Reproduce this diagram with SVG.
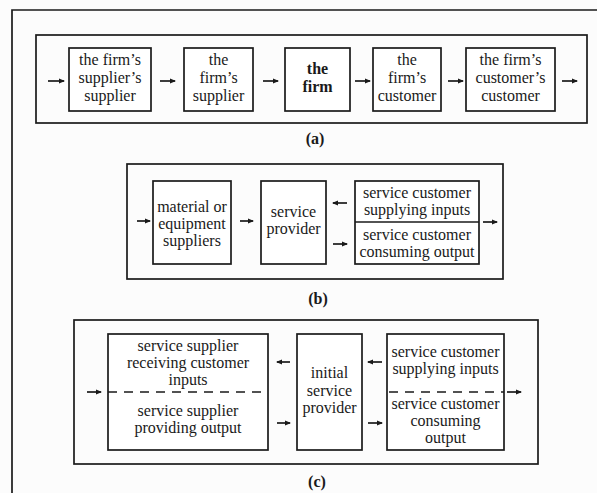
<svg xmlns="http://www.w3.org/2000/svg" width="597" height="493" viewBox="0 0 597 493">
  <defs>
    <marker id="head" markerWidth="6" markerHeight="6" refX="5" refY="3" orient="auto" markerUnits="userSpaceOnUse">
      <path d="M0,0.6 L6,3 L0,5.4 Z" fill="#1a1a1a"/>
    </marker>
    <style>
      .frame { fill: none; stroke: #1a1a1a; stroke-width: 1.7; }
      .box { fill: #ffffff; stroke: #1a1a1a; stroke-width: 1.7; }
      .dash { stroke: #1a1a1a; stroke-width: 1.5; stroke-dasharray: 9 7; }
      .div { stroke: #1a1a1a; stroke-width: 1.5; }
      .arr { stroke: #1a1a1a; stroke-width: 1.7; marker-end: url(#head); }
      text { font-family: "Liberation Serif", "Times New Roman", serif; font-size: 16px; fill: #1a1a1a; text-anchor: middle; }
      .b { font-weight: bold; }
      .lab { font-weight: bold; font-size: 16px; }
    </style>
  </defs>
  <rect width="597" height="493" fill="#fcfcfc"/>

  <!-- page frame: top and left rules -->
  <path class="frame" d="M12,493 L12,10 L597,10"/>

  <!-- panel (a) -->
  <g id="panel-a">
    <rect class="frame" x="36" y="35" width="551" height="88"/>
    <text class="lab" x="315" y="144">(a)</text>
  </g>
  <g id="a-supplier-supplier">
    <rect class="box" x="69" y="48" width="82" height="63"/>
    <text x="110" y="65">the firm’s</text>
    <text x="110" y="83">supplier’s</text>
    <text x="110" y="101">supplier</text>
  </g>
  <g id="a-supplier">
    <rect class="box" x="184" y="48" width="69" height="63"/>
    <text x="218.5" y="65">the</text>
    <text x="218.5" y="83">firm’s</text>
    <text x="218.5" y="101">supplier</text>
  </g>
  <g id="a-firm">
    <rect class="box" x="285" y="48" width="65" height="63"/>
    <text class="b" x="317.5" y="74">the</text>
    <text class="b" x="317.5" y="92">firm</text>
  </g>
  <g id="a-customer">
    <rect class="box" x="373" y="48" width="68" height="63"/>
    <text x="407" y="65">the</text>
    <text x="407" y="83">firm’s</text>
    <text x="407" y="101">customer</text>
  </g>
  <g id="a-customer-customer">
    <rect class="box" x="466" y="48" width="89" height="63"/>
    <text x="510.5" y="65">the firm’s</text>
    <text x="510.5" y="83">customer’s</text>
    <text x="510.5" y="101">customer</text>
  </g>

  <!-- panel (b) -->
  <g id="panel-b">
    <rect class="frame" x="127" y="164" width="376" height="115"/>
    <text class="lab" x="318" y="304">(b)</text>
  </g>
  <g id="b-suppliers">
    <rect class="box" x="153" y="181" width="78" height="83"/>
    <text x="192" y="212">material or</text>
    <text x="192" y="229">equipment</text>
    <text x="192" y="246">suppliers</text>
  </g>
  <g id="b-provider">
    <rect class="box" x="261" y="181" width="65" height="83"/>
    <text x="293.5" y="217">service</text>
    <text x="293.5" y="234">provider</text>
  </g>
  <g id="b-customer">
    <rect class="box" x="355" y="181" width="124" height="83"/>
    <line class="div" x1="355" y1="222" x2="479" y2="222"/>
    <text x="417" y="198">service customer</text>
    <text x="417" y="215">supplying inputs</text>
    <text x="417" y="240">service customer</text>
    <text x="417" y="257">consuming output</text>
  </g>

  <!-- panel (c) -->
  <g id="panel-c">
    <rect class="frame" x="74" y="320" width="464" height="144"/>
    <text class="lab" x="317" y="487">(c)</text>
  </g>
  <g id="c-supplier">
    <rect class="box" x="108" y="334" width="160" height="116"/>
    <line class="dash" x1="108" y1="392" x2="268" y2="392"/>
    <text x="188" y="351">service supplier</text>
    <text x="188" y="368">receiving customer</text>
    <text x="188" y="385">inputs</text>
    <text x="188" y="416">service supplier</text>
    <text x="188" y="433">providing output</text>
  </g>
  <g id="c-provider">
    <rect class="box" x="297" y="334" width="65" height="116"/>
    <text x="329.5" y="378">initial</text>
    <text x="329.5" y="396">service</text>
    <text x="329.5" y="413">provider</text>
  </g>
  <g id="c-customer">
    <rect class="box" x="387" y="334" width="117" height="116"/>
    <line class="dash" x1="387" y1="392" x2="504" y2="392" stroke-dashoffset="-2"/>
    <text x="445.5" y="357">service customer</text>
    <text x="445.5" y="374">supplying inputs</text>
    <text x="445.5" y="409">service customer</text>
    <text x="445.5" y="426">consuming</text>
    <text x="445.5" y="443">output</text>
  </g>

  <!-- connectors -->
  <g id="connectors">
    <line class="arr" x1="48" y1="81" x2="64" y2="81"/>
    <line class="arr" x1="160" y1="81" x2="175" y2="81"/>
    <line class="arr" x1="263" y1="81" x2="278" y2="81"/>
    <line class="arr" x1="355" y1="81" x2="370" y2="81"/>
    <line class="arr" x1="448" y1="81" x2="463" y2="81"/>
    <line class="arr" x1="562" y1="81" x2="577" y2="81"/>

    <line class="arr" x1="137" y1="221" x2="150" y2="221"/>
    <line class="arr" x1="240" y1="221" x2="253" y2="221"/>
    <line class="arr" x1="347" y1="203" x2="333" y2="203"/>
    <line class="arr" x1="333" y1="244" x2="347" y2="244"/>
    <line class="arr" x1="483" y1="222" x2="497" y2="222"/>

    <line class="arr" x1="87" y1="392" x2="101" y2="392"/>
    <line class="arr" x1="290" y1="362" x2="277" y2="362"/>
    <line class="arr" x1="277" y1="423" x2="290" y2="423"/>
    <line class="arr" x1="382" y1="362" x2="368" y2="362"/>
    <line class="arr" x1="368" y1="423" x2="382" y2="423"/>
    <line class="arr" x1="507" y1="392" x2="521" y2="392"/>
  </g>
</svg>
